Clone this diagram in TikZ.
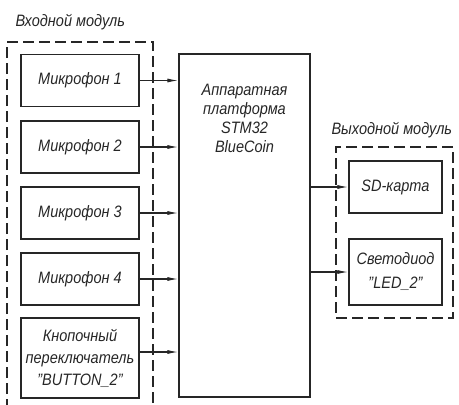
\documentclass[tikz,border=0pt]{standalone}
\usepackage{fontspec}
\setmainfont{Liberation Sans}[FakeStretch=0.88]
\usetikzlibrary{arrows.meta}
\begin{document}
\begin{tikzpicture}[x=1pt,y=-1pt,
  every node/.style={font=\fontsize{16.5}{22}\selectfont\itshape, text=black!85},
  blk/.style={draw=black!85, line width=1.3pt, minimum width=118pt, minimum height=52pt, inner sep=0pt, align=center},
  modbox/.style={draw=black!85, line width=1.3pt, dash pattern=on 11pt off 5pt},
  arr/.style={draw=black!85, line width=1.1pt, -{Latex[length=11pt,width=4pt]}}]
\useasboundingbox (0,0) rectangle (459,405);
% input module
\node[anchor=west] (tin) at (12,22) {Входной модуль};
\begin{scope}
\clip (0,0) rectangle (459,405);
\coordinate (inbl) at (7,410);
\coordinate (inbr) at (153,410);
\draw[modbox] (inbl) -- (7,42) -- (153,42) -- (inbr);
\end{scope}
\node[blk] (m1) at (80,80.5) {Микрофон 1};
\node[blk] (m2) at (80,147) {Микрофон 2};
\node[blk] (m3) at (80,213) {Микрофон 3};
\node[blk] (m4) at (80,279) {Микрофон 4};
\node[blk, minimum height=80pt] (btn) at (80,358) {Кнопочный\\переключатель\\"BUTTON\_2"};
% platform
\node[blk, minimum width=131pt, minimum height=343pt] (pl) at (244.5,225.5) {};
\node[align=center, font=\fontsize{16.5}{19}\selectfont\itshape] (plt) at (244.5,118) {Аппаратная\\платформа\\STM32\\BlueCoin};
% output module
\node[anchor=west] (tout) at (328,130) {Выходной модуль};
\node[modbox, minimum width=117pt, minimum height=171pt, inner sep=0pt] (outm) at (394.5,232.5) {};
\node[blk, minimum width=93pt] (sd) at (395.5,187) {SD-карта};
\node[blk, minimum width=93pt, minimum height=66pt, font=\fontsize{16.5}{24}\selectfont\itshape] (led) at (395.5,272) {Светодиод\\"LED\_2"};
% arrows
\draw[arr] (m1.east) -- (m1.east -| pl.west);
\draw[arr] (m2.east) -- (m2.east -| pl.west);
\draw[arr] (m3.east) -- (m3.east -| pl.west);
\draw[arr] (m4.east) -- (m4.east -| pl.west);
\draw[arr] ([yshift=6pt]btn.east) -- ([yshift=6pt]btn.east -| pl.west);
\draw[arr] (sd.west -| pl.east) -- (sd.west);
\draw[arr] (led.west -| pl.east) -- (led.west);
\end{tikzpicture}
\end{document}
